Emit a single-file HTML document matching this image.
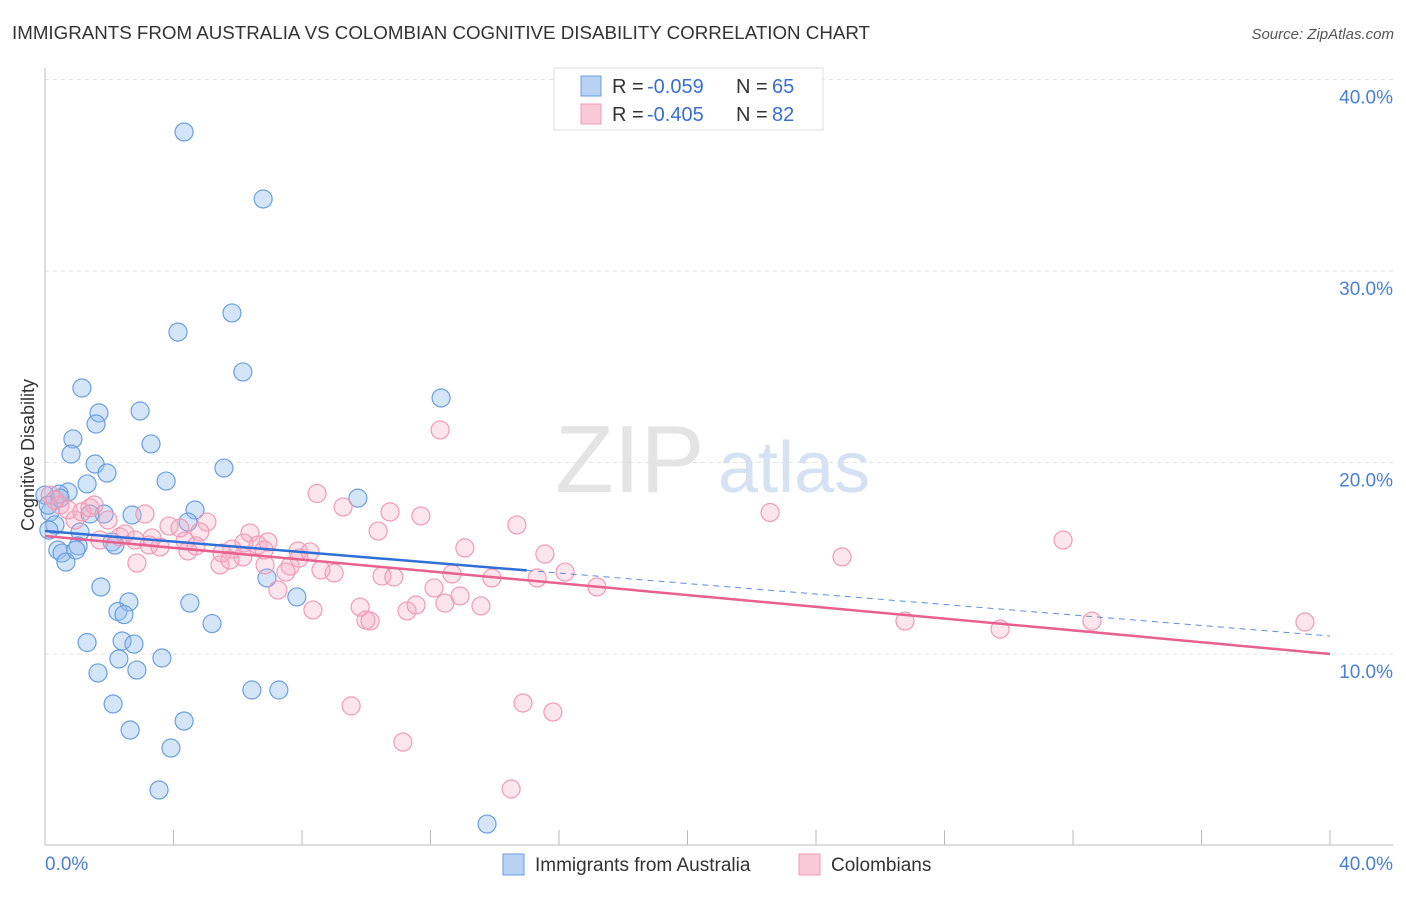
<!DOCTYPE html>
<html><head><meta charset="utf-8"><style>
body{margin:0;background:#fff;font-family:"Liberation Sans",sans-serif}
svg text{font-family:"Liberation Sans",sans-serif}
</style></head><body>
<svg id="chart" width="1406" height="892" xmlns="http://www.w3.org/2000/svg">
<text x="12" y="39" font-size="18" fill="#333" textLength="858" lengthAdjust="spacingAndGlyphs">IMMIGRANTS FROM AUSTRALIA VS COLOMBIAN COGNITIVE DISABILITY CORRELATION CHART</text>
<text x="1394" y="39" font-size="15" fill="#555" font-style="italic" text-anchor="end">Source: ZipAtlas.com</text>
<text x="555" y="492" font-size="96" fill="#e4e4e4" font-family="Liberation Serif">ZIP</text>
<text x="718" y="492" font-size="72" fill="#d4e2f4">atlas</text>
<g id="grid"></g><g id="axes"></g><g id="pts"></g><g id="lines"></g>
<text x="34" y="455" font-size="18" fill="#333" transform="rotate(-90 34 455)" text-anchor="middle">Cognitive Disability</text>
<g>
<rect x="554" y="68" width="269" height="62" fill="#fff" stroke="#ddd"/>
<rect x="581" y="76" width="20" height="20" fill="#b8d2f3" stroke="#6a9fe0"/>
<rect x="581" y="104" width="20" height="20" fill="#f9c9d8" stroke="#f29ab5"/>
<text x="612" y="93" font-size="20" fill="#333">R =</text><text x="647" y="93" font-size="20" fill="#3a6fd0">-0.059</text>
<text x="736" y="93" font-size="20" fill="#333">N =</text><text x="772" y="93" font-size="20" fill="#3a6fd0">65</text>
<text x="612" y="121" font-size="20" fill="#333">R =</text><text x="647" y="121" font-size="20" fill="#3a6fd0">-0.405</text>
<text x="736" y="121" font-size="20" fill="#333">N =</text><text x="772" y="121" font-size="20" fill="#3a6fd0">82</text>
</g>
<g>
<rect x="503" y="854" width="21" height="21" fill="#b8d2f3" stroke="#6a9fe0"/>
<text x="535" y="871" font-size="19" fill="#333">Immigrants from Australia</text>
<rect x="799" y="854" width="21" height="21" fill="#f9c9d8" stroke="#f29ab5"/>
<text x="831" y="871" font-size="19" fill="#333">Colombians</text>
</g>
</svg>
<script>
const yTicks=[10,20,30,40];
const yTickLabels=["10.0%","20.0%","30.0%","40.0%"];
const xTickLabels=["0.0%","40.0%"];
const blueX=[4.33,6.79,4.14,5.82,6.16,1.15,12.33,2.96,1.68,1.59,0.87,3.30,0.81,1.56,1.93,5.57,3.77,1.31,0.72,0.44,9.74,4.67,2.71,1.84,1.40,0.16,0.31,4.45,0.12,1.09,2.09,2.18,1.03,0.40,0.53,0.65,0.96,6.91,1.74,2.61,4.51,7.84,2.27,2.46,5.20,1.31,2.40,2.77,2.30,3.64,1.65,2.86,6.44,7.28,2.12,4.33,2.65,3.92,3.55,13.76,0.0,0.1,0.47];
const blueY=[37.26,33.76,26.81,27.81,24.73,23.89,23.37,22.69,22.59,22.01,21.23,20.97,20.44,19.92,19.45,19.71,19.03,18.88,18.46,18.35,18.14,17.52,17.26,17.31,17.31,17.42,16.74,16.89,16.47,16.37,15.85,15.69,15.64,15.43,15.27,14.80,15.43,13.97,13.50,12.72,12.66,12.98,12.22,12.06,11.59,10.60,10.68,10.52,9.74,9.79,9.01,9.16,8.12,8.12,7.39,6.50,6.03,5.09,2.90,1.12,18.30,17.77,18.14];
const pinkX=[12.30,8.47,22.57,31.69,9.28,10.74,11.70,14.69,10.37,3.11,5.04,6.38,3.86,4.82,2.33,2.80,1.71,3.24,3.58,4.36,4.45,5.82,6.63,5.51,6.82,6.16,7.88,8.25,6.19,13.07,15.56,24.81,5.45,2.86,7.63,7.91,7.50,9.00,10.49,10.86,12.67,13.91,15.32,16.19,17.18,7.25,12.11,12.92,9.81,8.34,11.27,11.55,12.45,13.57,9.99,10.12,26.77,29.73,32.59,39.22,9.53,14.88,15.81,11.14,14.51,0.47,0.72,0.93,1.15,0.16,0.31,1.53,1.96,2.49,4.2,6.94,5.76,3.33,1.40,4.7,6.85,8.59];
const pinkY=[21.70,18.38,17.39,15.95,17.68,17.42,17.21,16.74,16.42,17.31,16.89,16.32,16.68,16.37,16.11,15.95,15.95,15.69,15.59,15.90,15.38,15.48,15.69,15.27,15.43,15.07,15.38,15.33,15.80,15.54,15.22,15.07,14.65,14.75,14.59,15.01,14.28,14.23,14.07,14.02,14.18,13.97,13.97,14.28,13.50,13.34,13.45,13.03,12.45,12.30,12.25,12.56,12.66,12.51,11.77,11.72,11.72,11.30,11.72,11.67,7.29,7.44,6.97,5.40,2.95,17.78,17.52,17.00,17.42,18.30,18.04,17.78,17.0,16.27,16.58,15.85,14.91,16.06,17.63,15.64,14.65,14.39];
const blueTrend=[16.42,10.94], blueSolidEnd=15;
const pinkTrend=[16.16,10.0];
const NS="http://www.w3.org/2000/svg";
const X=v=>45+v*32.125, Y=v=>845.5-v*19.15;
function mk(tag,attrs,parent){const e=document.createElementNS(NS,tag);for(const k in attrs)e.setAttribute(k,attrs[k]);document.getElementById(parent).appendChild(e);return e;}
yTicks.forEach((t,i)=>{
 const g=mk('line',{x1:45,x2:1393,y1:Y(t),y2:Y(t),stroke:'#e2e2e2','stroke-dasharray':'4,4'},'grid');
 
 
 const tx=mk('text',{x:1393,y:Y(t)+24,'font-size':19,fill:'#4a7fd6','text-anchor':'end'},'grid');
 tx.textContent=yTickLabels[i];
 
 
});
let a=mk('line',{x1:45,x2:45,y1:68,y2:845,stroke:'#bbb'},'axes');


a=mk('line',{x1:45,x2:1393,y1:845,y2:845,stroke:'#bbb'},'axes');


for(let v=0;v<=40;v+=4){const t=mk('line',{x1:X(v),x2:X(v),y1:830,y2:845,stroke:'#bbb'},'axes');
 
 }
[[0,'start'],[40,'end']].forEach(([v,anc],i)=>{const t=mk('text',{x:i?1393:45,y:870,'font-size':19,fill:'#4a7fd6','text-anchor':anc},'axes');t.textContent=xTickLabels[i];
 
 });
blueX.forEach((x,i)=>{const c=mk('circle',{cx:X(x),cy:Y(blueY[i]),r:9,fill:'rgba(150,190,238,0.4)',stroke:'#6a9fe0','stroke-width':1.2},'pts');
 
 });
pinkX.forEach((x,i)=>{const c=mk('circle',{cx:X(x),cy:Y(pinkY[i]),r:9,fill:'rgba(245,170,195,0.3)',stroke:'#f29ab5','stroke-width':1.2},'pts');
 
 });
const by=v=>blueTrend[0]+(blueTrend[1]-blueTrend[0])*v/40;
let l=mk('line',{x1:X(0),y1:Y(by(0)),x2:X(blueSolidEnd),y2:Y(by(blueSolidEnd)),stroke:'#2f6fd6','stroke-width':2.5},'lines');


l=mk('line',{x1:X(blueSolidEnd),y1:Y(by(blueSolidEnd)),x2:X(40),y2:Y(by(40)),stroke:'#5a8fe0','stroke-width':1,'stroke-dasharray':'6,5'},'lines');


l=mk('line',{x1:X(0),y1:Y(pinkTrend[0]),x2:X(40),y2:Y(pinkTrend[1]),stroke:'#e8608f','stroke-width':2.5},'lines');


</script>
</body></html>
